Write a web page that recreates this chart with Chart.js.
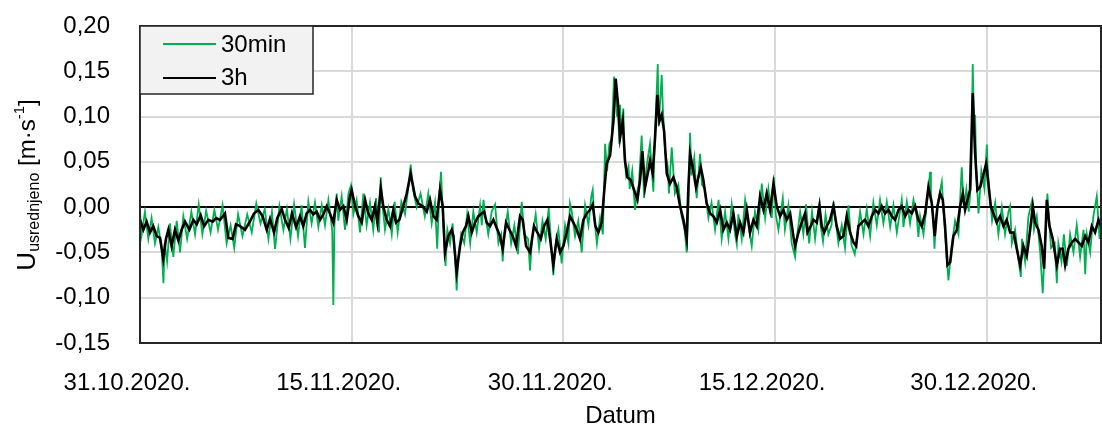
<!DOCTYPE html>
<html>
<head>
<meta charset="utf-8">
<script src="https://cdn.jsdelivr.net/npm/chart.js@4.4.0/dist/chart.umd.min.js"></script>
<style>
  html, body { margin: 0; padding: 0; background: #fff; }
  #wrap { width: 1102px; height: 432px; position: relative; }
</style>
</head>
<body>
<div id="wrap"><canvas id="chart"></canvas></div>
<script>
// x values are days since 31.10.2020.
const xTickDays = [0, 15, 30, 45, 60];
const xTickLabels = ['31.10.2020.', '15.11.2020.', '30.11.2020.', '15.12.2020.', '30.12.2020.'];
const yTickValues = [-0.15, -0.10, -0.05, 0, 0.05, 0.10, 0.15, 0.20];
const yTickLabels = ['-0,15', '-0,10', '-0,05', '0,00', '0,05', '0,10', '0,15', '0,20'];

// 3h averaged series
const days3h = [
  0.00,0.24,0.47,0.71,0.94,1.18,1.42,1.65,1.84,2.01,
  2.24,2.48,2.72,2.95,3.19,3.50,3.78,4.02,4.30,4.54,
  4.84,5.15,5.39,5.67,6.02,6.26,6.57,6.80,7.09,7.44,
  7.75,8.08,8.39,8.69,8.98,9.21,9.50,9.73,10.04,10.28,
  10.54,10.77,11.06,11.34,11.57,11.81,12.05,12.28,12.52,12.76,
  12.99,13.23,13.46,13.70,13.94,14.17,14.41,14.65,14.88,15.00,
  15.24,15.47,15.71,15.95,16.18,16.42,16.65,16.82,17.06,17.24,
  17.48,17.72,17.95,18.14,18.38,18.66,18.90,19.18,19.49,19.73,
  20.03,20.32,20.55,20.79,21.02,21.26,21.45,21.61,21.85,22.09,
  22.21,22.44,22.68,22.87,23.10,23.27,23.51,23.74,23.98,24.21,
  24.38,24.57,24.80,25.04,25.28,25.51,25.70,25.94,26.18,26.41,
  26.65,26.93,27.12,27.36,27.64,27.92,28.16,28.40,28.63,28.87,
  29.06,29.29,29.53,29.77,30.00,30.24,30.47,30.71,30.95,31.18,
  31.42,31.66,31.89,32.08,32.27,32.48,32.72,32.88,33.07,33.31,
  33.55,33.71,33.90,34.02,34.21,34.37,34.54,34.77,35.01,35.25,
  35.44,35.60,35.79,36.03,36.14,36.33,36.50,36.66,36.81,36.97,
  37.14,37.33,37.56,37.80,38.03,38.27,38.51,38.74,38.86,38.98,
  39.17,39.40,39.57,39.74,39.92,40.16,40.40,40.63,40.87,41.11,
  41.34,41.58,41.81,42.05,42.29,42.52,42.76,43.00,43.23,43.47,
  43.70,43.94,44.18,44.41,44.65,44.89,45.12,45.36,45.59,45.83,
  46.07,46.30,46.42,46.66,46.89,47.13,47.30,47.53,47.72,47.96,
  48.15,48.31,48.48,48.67,48.90,49.14,49.37,49.61,49.85,50.08,
  50.32,50.56,50.75,50.91,51.15,51.38,51.62,51.86,52.09,52.33,
  52.56,52.80,53.04,53.27,53.51,53.75,53.98,54.22,54.45,54.69,
  54.93,55.16,55.40,55.64,55.87,56.11,56.32,56.51,56.70,56.89,
  57.05,57.22,57.41,57.64,57.88,58.12,58.31,58.47,58.64,58.82,
  59.01,59.18,59.34,59.53,59.72,59.96,60.12,60.29,60.48,60.71,
  60.95,61.19,61.42,61.66,61.90,62.13,62.37,62.60,62.84,63.08,
  63.27,63.43,63.67,63.90,64.07,64.26,64.45,64.68,64.97,65.20,
  65.39,65.56,65.79,66.03,66.27,66.50,66.74,66.98,67.21,67.45,
  67.68,67.92,68.10
];
const u3h = [
  -0.014,-0.025,-0.016,-0.028,-0.021,-0.032,-0.034,-0.057,-0.035,-0.025,
  -0.043,-0.025,-0.037,-0.025,-0.016,-0.025,-0.014,-0.019,-0.009,-0.021,
  -0.014,-0.016,-0.012,-0.014,-0.007,-0.034,-0.035,-0.019,-0.021,-0.025,
  -0.017,-0.007,-0.003,-0.010,-0.025,-0.013,-0.028,-0.012,-0.002,-0.014,
  -0.023,-0.007,-0.022,-0.010,-0.021,-0.007,-0.003,-0.008,-0.005,-0.014,
  -0.008,0.001,-0.007,-0.017,0.008,-0.003,0.001,-0.014,0.012,0.019,
  0.001,-0.010,-0.017,0.008,-0.007,-0.014,0.001,-0.017,0.021,0.001,
  -0.014,-0.021,-0.003,-0.017,-0.014,0.001,0.015,0.037,0.012,0.004,
  0.001,-0.005,0.008,-0.010,-0.014,0.019,0.001,-0.050,-0.032,-0.025,
  -0.032,-0.072,-0.043,-0.028,-0.021,-0.010,-0.028,-0.017,-0.010,-0.007,
  -0.005,-0.017,-0.021,-0.014,-0.023,-0.032,-0.046,-0.017,-0.025,-0.032,
  -0.043,-0.010,-0.014,-0.043,-0.050,-0.021,-0.028,-0.035,-0.021,-0.014,
  -0.035,-0.064,-0.035,-0.050,-0.043,-0.028,-0.010,-0.017,-0.025,-0.035,
  -0.014,-0.007,-0.003,0.003,-0.021,-0.028,-0.017,0.015,0.048,0.057,
  0.095,0.142,0.109,0.077,0.095,0.051,0.033,0.030,0.019,0.008,
  0.030,0.062,0.022,0.041,0.051,0.037,0.077,0.124,0.095,0.102,
  0.084,0.037,0.026,0.033,0.022,0.001,-0.014,-0.035,0.022,0.059,
  0.044,0.022,0.033,0.044,0.030,0.004,-0.007,-0.010,-0.017,-0.003,
  -0.025,-0.017,-0.025,-0.007,-0.032,-0.017,-0.028,-0.003,-0.028,-0.014,
  -0.021,0.012,-0.003,0.015,-0.003,0.026,0.001,-0.010,-0.003,-0.014,
  -0.007,-0.032,-0.043,-0.028,-0.017,-0.007,-0.028,-0.021,-0.014,-0.017,
  0.001,-0.021,-0.028,-0.021,-0.014,0.001,-0.021,-0.035,-0.032,-0.010,
  -0.028,-0.039,-0.043,-0.021,-0.017,-0.014,-0.021,-0.010,-0.003,-0.007,
  0.001,-0.007,-0.003,-0.010,-0.014,-0.003,0.001,-0.010,-0.003,-0.007,
  0.001,-0.014,-0.021,-0.007,0.022,0.004,-0.032,0.001,0.015,0.008,
  -0.021,-0.064,-0.061,-0.032,-0.025,0.001,0.015,-0.003,0.008,0.019,
  0.126,0.059,0.019,0.022,0.033,0.048,0.026,0.001,-0.007,-0.017,
  -0.010,-0.021,-0.014,-0.028,-0.028,-0.046,-0.064,-0.043,-0.054,-0.025,
  0.001,-0.017,-0.025,-0.043,-0.068,0.008,-0.021,-0.035,-0.064,-0.046,
  -0.046,-0.064,-0.046,-0.039,-0.035,-0.039,-0.043,-0.032,-0.039,-0.021,
  -0.028,-0.014,-0.021
];

// 30 min series (noisier)
const days30min = [
  0.00,0.12,0.35,0.59,0.82,1.06,1.30,1.53,1.66,1.75,
  1.92,2.12,2.36,2.60,2.84,3.07,3.34,3.64,3.90,4.16,
  4.42,4.69,5.00,5.27,5.53,5.85,6.14,6.42,6.68,6.95,
  7.26,7.60,7.92,8.24,8.54,8.84,9.10,9.35,9.57,9.88,
  10.16,10.41,10.66,10.92,11.20,11.45,11.69,11.93,12.16,12.40,
  12.64,12.88,13.11,13.35,13.62,13.70,13.78,13.94,14.05,14.29,
  14.53,14.77,14.95,15.12,15.35,15.59,15.83,16.06,16.30,16.53,
  16.73,16.94,17.06,17.15,17.36,17.60,17.84,18.04,18.26,18.52,
  18.78,19.04,19.18,19.34,19.61,19.88,20.18,20.43,20.67,20.90,
  21.06,21.20,21.33,21.50,21.65,21.78,21.97,22.15,22.30,22.44,
  22.56,22.75,22.98,23.18,23.40,23.62,23.86,24.10,24.22,24.34,
  24.48,24.68,24.92,25.16,25.40,25.60,25.70,25.82,26.06,26.30,
  26.53,26.78,27.05,27.24,27.50,27.64,27.78,28.04,28.28,28.52,
  28.75,28.96,29.18,29.29,29.41,29.65,29.88,30.12,30.36,30.47,
  30.60,30.83,31.06,31.30,31.54,31.78,31.98,32.08,32.18,32.38,
  32.60,32.80,32.96,33.10,33.26,33.42,33.59,33.71,33.80,33.85,
  33.96,34.02,34.12,34.25,34.32,34.45,34.62,34.70,34.88,35.08,
  35.20,35.35,35.55,35.65,35.72,35.90,36.14,36.38,36.45,36.69,
  36.76,36.97,37.05,37.22,37.40,37.48,37.68,37.90,38.15,38.38,
  38.60,38.74,38.86,38.98,39.08,39.28,39.45,39.69,39.82,40.02,
  40.28,40.50,40.75,41.00,41.22,41.46,41.70,41.93,42.17,42.29,
  42.40,42.64,42.88,43.12,43.35,43.58,43.82,44.06,44.30,44.53,
  44.77,44.92,45.05,45.24,45.55,45.70,45.95,46.18,46.42,46.54,
  46.78,47.01,47.20,47.42,47.62,47.84,48.05,48.15,48.23,48.40,
  48.58,48.78,49.00,49.14,49.26,49.49,49.73,49.96,50.20,50.42,
  50.65,50.83,51.03,51.27,51.50,51.74,51.97,52.21,52.44,52.68,
  52.92,53.16,53.39,53.63,53.98,54.10,54.34,54.57,54.81,55.04,
  55.16,55.28,55.52,55.75,55.99,56.05,56.20,56.30,56.42,56.60,
  56.82,56.97,57.14,57.29,57.50,57.76,58.00,58.23,58.38,58.56,
  58.73,58.90,59.01,59.10,59.18,59.26,59.42,59.62,59.84,60.01,
  60.08,60.20,60.38,60.60,60.83,61.07,61.30,61.54,61.66,61.78,
  62.01,62.25,62.42,62.50,62.72,62.96,63.20,63.35,63.55,63.79,
  63.97,64.16,64.30,64.40,64.56,64.82,64.97,65.08,65.30,65.47,
  65.68,65.91,66.15,66.38,66.62,66.86,66.98,67.10,67.33,67.56,
  67.80,68.00,68.10
];
const u30min = [
  -0.005,-0.030,-0.005,-0.035,-0.012,-0.040,-0.022,-0.045,-0.084,-0.040,
  -0.060,-0.018,-0.055,-0.015,-0.050,-0.010,-0.035,-0.005,-0.030,0.003,
  -0.030,-0.004,-0.028,-0.003,-0.025,0.002,-0.040,-0.020,-0.045,-0.008,
  -0.032,-0.008,-0.028,0.004,-0.018,-0.002,-0.035,-0.005,-0.046,0.001,
  -0.025,-0.002,-0.035,0.003,-0.032,0.002,-0.045,0.006,-0.018,0.005,
  -0.022,0.002,-0.020,0.008,-0.025,-0.108,-0.020,0.015,-0.015,0.012,
  -0.025,0.015,0.024,-0.008,0.008,-0.028,0.015,-0.020,0.005,-0.025,
  0.010,-0.028,0.033,0.008,-0.025,-0.002,-0.030,0.006,-0.028,0.006,
  -0.008,0.025,0.047,0.020,0.000,0.015,-0.010,0.015,-0.018,0.005,
  -0.046,0.010,0.039,-0.020,-0.065,-0.025,-0.040,-0.018,-0.050,-0.092,
  -0.055,-0.030,-0.040,-0.008,-0.040,-0.005,-0.028,0.002,-0.020,0.008,
  -0.010,-0.030,-0.005,0.003,-0.040,-0.030,-0.060,-0.030,-0.005,-0.040,
  -0.020,-0.052,0.006,-0.030,-0.035,-0.070,-0.035,-0.008,-0.045,-0.015,
  -0.035,-0.001,-0.050,-0.075,-0.045,-0.025,-0.062,-0.020,-0.040,0.004,
  -0.005,-0.032,-0.015,-0.050,0.002,-0.020,0.012,0.019,-0.010,-0.040,
  -0.012,-0.030,0.070,0.040,0.070,0.075,0.144,0.130,0.100,0.120,
  0.070,0.113,0.080,0.109,0.060,0.035,0.045,0.020,0.040,-0.003,
  0.015,0.025,0.079,0.040,0.010,0.045,0.070,0.017,0.060,0.158,
  0.090,0.146,0.110,0.060,0.045,0.015,0.066,0.015,0.025,-0.010,
  -0.025,-0.050,0.000,0.082,0.035,0.055,0.010,0.059,0.025,0.020,
  -0.012,0.005,-0.025,0.008,-0.035,-0.005,-0.035,0.003,-0.030,-0.041,
  -0.008,-0.035,0.008,-0.020,-0.043,-0.005,-0.025,0.026,-0.012,0.020,
  -0.012,0.033,-0.008,-0.025,0.010,-0.025,0.002,-0.040,-0.055,-0.035,
  -0.005,-0.030,0.003,-0.040,-0.005,-0.035,-0.005,0.004,-0.020,-0.038,
  -0.008,-0.030,-0.020,0.006,-0.010,-0.040,-0.020,-0.045,0.002,-0.042,
  -0.052,-0.030,-0.005,-0.030,-0.002,-0.032,0.005,-0.020,0.008,-0.018,
  0.006,-0.022,0.002,-0.028,0.008,-0.022,0.006,-0.018,0.008,-0.010,
  -0.033,-0.010,-0.030,0.002,0.039,0.015,-0.010,-0.046,-0.010,0.010,
  0.028,-0.010,-0.050,-0.081,-0.045,-0.015,-0.030,0.044,0.000,0.020,
  -0.005,0.030,0.158,0.090,0.102,0.040,-0.007,0.040,0.020,0.069,
  0.040,0.015,-0.015,0.005,-0.030,0.000,-0.030,-0.005,0.001,-0.040,
  -0.025,-0.058,-0.077,-0.035,-0.060,-0.010,0.006,-0.025,-0.010,-0.050,
  -0.095,-0.030,0.015,-0.010,-0.045,-0.040,-0.084,-0.040,-0.060,-0.030,
  -0.065,-0.030,-0.050,-0.020,-0.055,-0.025,-0.074,-0.030,-0.050,-0.010,
  0.012,-0.035,-0.005
];

const FONT = 'Liberation Sans, Arial, sans-serif';

// frame, legend box and axis titles drawn on top
const extras = {
  id: 'extras',
  afterDraw(chart) {
    const { ctx, chartArea: a } = chart;
    ctx.save();
    ctx.strokeStyle = '#262626';
    ctx.lineWidth = 2;
    ctx.strokeRect(a.left, a.top, a.right - a.left, a.bottom - a.top);

    // legend
    ctx.fillStyle = '#f2f2f2';
    ctx.fillRect(a.left, a.top, 173, 68);
    ctx.strokeStyle = '#262626';
    ctx.lineWidth = 1.5;
    ctx.strokeRect(a.left, a.top, 173, 68);
    ctx.lineWidth = 2;
    ctx.strokeStyle = '#00b050';
    ctx.beginPath(); ctx.moveTo(163, 44); ctx.lineTo(216, 44); ctx.stroke();
    ctx.strokeStyle = '#000';
    ctx.beginPath(); ctx.moveTo(163, 78); ctx.lineTo(216, 78); ctx.stroke();
    ctx.fillStyle = '#000';
    ctx.font = '24px ' + FONT;
    ctx.textBaseline = 'middle';
    ctx.textAlign = 'left';
    ctx.fillText('30min', 221, 45);
    ctx.fillText('3h', 221, 78);

    // x title
    ctx.textAlign = 'center';
    ctx.fillText('Datum', (a.left + a.right) / 2, 416);

    // y title with subscript and superscript
    const runs = [
      { t: 'U', f: 26, dy: 0 },
      { t: 'usrednjeno', f: 16, dy: 7 },
      { t: ' [m\u00b7s', f: 24, dy: 0 },
      { t: '-1', f: 15, dy: -8 },
      { t: ']', f: 24, dy: 0 }
    ];
    let total = 0;
    runs.forEach(r => { ctx.font = r.f + 'px ' + FONT; r.w = ctx.measureText(r.t).width; total += r.w; });
    ctx.translate(28, 185);
    ctx.rotate(-Math.PI / 2);
    ctx.textAlign = 'left';
    let x = -total / 2;
    runs.forEach(r => {
      ctx.font = r.f + 'px ' + FONT;
      ctx.fillText(r.t, x, r.dy);
      x += r.w;
    });
    ctx.restore();
  }
};

const ctx = document.getElementById('chart').getContext('2d');
const chart = new Chart(ctx, {
  type: 'line',
  data: {
    datasets: [
      {
        label: '3h',
        data: days3h.map((d, i) => ({ x: d, y: u3h[i] })),
        borderColor: '#000000',
        borderWidth: 2.6,
        order: 1
      },
      {
        label: '30min',
        data: days30min.map((d, i) => ({ x: d, y: u30min[i] })),
        borderColor: '#00b050',
        borderWidth: 1.8,
        order: 2
      }
    ]
  },
  options: {
    animation: false,
    responsive: true,
    maintainAspectRatio: false,
    elements: { point: { radius: 0 }, line: { tension: 0 } },
    layout: { padding: { top: 26, right: 1, left: 0, bottom: 0 } },
    plugins: { legend: { display: false }, tooltip: { enabled: false } },
    scales: {
      x: {
        type: 'linear',
        min: 0,
        max: 68.1,
        afterBuildTicks: axis => { axis.ticks = xTickDays.map(v => ({ value: v })); },
        afterFit: axis => {
          axis.height = 89;
          axis.paddingLeft = 0;
          axis.paddingRight = 0;
        },
        grid: { color: '#d9d9d9', lineWidth: 2, drawTicks: false },
        border: { display: false },
        ticks: {
          autoSkip: false,
          maxRotation: 0,
          padding: 26,
          labelOffset: -13,
          color: '#000',
          font: { family: FONT, size: 24 },
          callback: (v, i) => xTickLabels[i]
        }
      },
      y: {
        min: -0.15,
        max: 0.20,
        afterBuildTicks: axis => { axis.ticks = yTickValues.map(v => ({ value: v })); },
        afterFit: axis => {
          axis.width = 140;
          axis.paddingTop = 0;
          axis.paddingBottom = 0;
        },
        grid: {
          color: c => (c.tick && Math.abs(c.tick.value) < 1e-9 ? '#000' : '#d9d9d9'),
          lineWidth: 2,
          drawTicks: false
        },
        border: { display: false },
        ticks: {
          padding: 30,
          color: '#000',
          font: { family: FONT, size: 24 },
          callback: (v, i) => yTickLabels[i]
        }
      }
    }
  },
  plugins: [extras]
});
</script>
</body>
</html>
